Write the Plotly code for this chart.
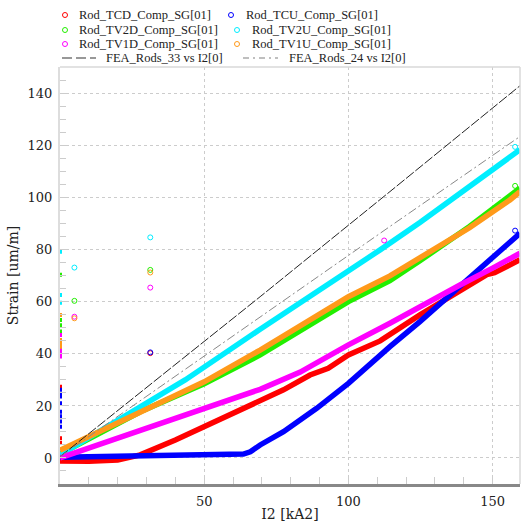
import plotly.graph_objects as go

# ---------------- data ----------------
tcd_x = [0, 10, 20, 27.8, 40, 50, 60.2, 69.4, 77.5, 86.7, 93, 100, 104, 111, 124.8, 138.7, 148, 150.7, 155, 159.5]
tcd_y = [-1.2, -1.3, -0.8, 1.2, 6.9, 12, 17.2, 21.7, 26.2, 31.9, 34.5, 39.6, 41.5, 45, 55, 64.6, 70.5, 71.2, 73.5, 76.2]

tcu_x = [0, 20, 40, 63.6, 66, 69.4, 77.5, 89, 100, 111, 114.4, 124.8, 138.7, 150, 159.5]
tcu_y = [0.3, 0.8, 1.2, 1.5, 2.4, 5, 10.1, 19.1, 28.7, 39.6, 42.8, 52.4, 65.9, 76.8, 86.4]

tv2d_x = [0, 20, 28.8, 50, 69.4, 100, 114.4, 124.8, 142, 159.5]
tv2d_y = [1.5, 13, 18.3, 28.5, 39.6, 60.1, 68.2, 75.8, 89, 103.7]

tv2u_x = [0, 20, 43.4, 69.4, 100, 111, 124.8, 149.7, 159.5]
tv2u_y = [1.2, 14.6, 30, 49.5, 71.7, 80, 90.5, 110.4, 118.5]

tv1d_x = [0, 20, 40, 50, 66, 69.4, 83.3, 100, 114.4, 124.8, 138.7, 150, 159.5]
tv1d_y = [0, 7.6, 15, 19.1, 25.3, 26.4, 33, 43.5, 51.8, 58.2, 66.5, 73, 78.7]

tv1u_x = [0, 20, 50, 69.4, 100, 114.4, 124.8, 142, 156, 159.5]
tv1u_y = [3, 13.7, 29.3, 41.5, 62, 70, 76.8, 88.5, 99.2, 102.4]

fea33_x = [0, 69.4, 114.4, 159.5]
fea33_y = [0.5, 62, 102.4, 143.1]
fea24_x = [0, 67.7, 114.4, 159.5]
fea24_y = [0.5, 53, 89, 123.6]

# isolated open-circle samples
out_tcd_x = [31.3];            out_tcd_y = [40.3]
out_tcu_x = [31.3, 157.8];     out_tcu_y = [40.6, 87.4]
out_tv2d_x = [5, 31.3, 157.8]; out_tv2d_y = [60.4, 72.3, 104.6]
out_tv2u_x = [5, 31.3, 157.8]; out_tv2u_y = [73.2, 84.8, 119.6]
out_tv1d_x = [5, 31.3, 112.4]; out_tv1d_y = [54.3, 65.5, 83.6]
out_tv1u_x = [5, 31.3];        out_tv1u_y = [53.7, 71.3]

# samples sitting on the left axis (x = 0)
edge_tcd_y = [27.4, 7.6, 5.8]
edge_tcu_y = [26.2, 24.5, 23.6, 21, 17.8, 16, 14, 12]
edge_tv2d_y = [70.4, 53, 51, 48.6]
edge_tv2u_y = [79.3, 62.7, 59.7]
edge_tv1d_y = [47.3, 41.5, 40, 39]
edge_tv1u_y = [55, 45.4, 44, 42.8]

names = ["Rod_TCD_Comp_SG[01]", "Rod_TCU_Comp_SG[01]", "Rod_TV2D_Comp_SG[01]",
         "Rod_TV2U_Comp_SG[01]", "Rod_TV1D_Comp_SG[01]", "Rod_TV1U_Comp_SG[01]"]
colors = ["#ff0000", "#0000ff", "#22ee00", "#00eeff", "#ff00ff", "#ff9a1a"]
fea_names = ["FEA_Rods_33 vs I2[0]", "FEA_Rods_24 vs I2[0]"]
fea_colors = ["#222222", "#888888"]

x_ticks = [50, 100, 150]
y_ticks = [0, 20, 40, 60, 80, 100, 120, 140]

series = [
    (tcd_x, tcd_y, out_tcd_x, out_tcd_y, edge_tcd_y),
    (tcu_x, tcu_y, out_tcu_x, out_tcu_y, edge_tcu_y),
    (tv2d_x, tv2d_y, out_tv2d_x, out_tv2d_y, edge_tv2d_y),
    (tv2u_x, tv2u_y, out_tv2u_x, out_tv2u_y, edge_tv2u_y),
    (tv1d_x, tv1d_y, out_tv1d_x, out_tv1d_y, edge_tv1d_y),
    (tv1u_x, tv1u_y, out_tv1u_x, out_tv1u_y, edge_tv1u_y),
]

FONT = "DejaVu Serif"
LFONT = "Liberation Serif"
W, H = 521, 526
ML, MR, MT, MB = 60, 1, 67, 42
PW, PH = W - ML - MR, H - MT - MB

fig = go.Figure()
for (sx, sy, ox, oy, ey), name, col in zip(series, names, colors):
    fig.add_trace(go.Scatter(x=sx, y=sy, mode="lines", name=name, showlegend=False,
                             line=dict(color=col, width=5.5)))
    fig.add_trace(go.Scatter(x=ox, y=oy, mode="markers", showlegend=False,
                             marker=dict(symbol="circle-open", size=5, color=col, line=dict(width=1))))
    fig.add_trace(go.Scatter(x=[0] * len(ey), y=ey, mode="markers", showlegend=False,
                             marker=dict(symbol="square", size=4, color=col)))

fig.add_trace(go.Scatter(x=fea33_x, y=fea33_y, mode="lines", name=fea_names[0], showlegend=False,
                         line=dict(color=fea_colors[0], width=1, dash="10px,2px")))
fig.add_trace(go.Scatter(x=fea24_x, y=fea24_y, mode="lines", name=fea_names[1], showlegend=False,
                         line=dict(color=fea_colors[1], width=1, dash="9px,3px,2px,3px")))

# ---------------- hand-built legend (pixel layout of the reference) ----------------
def px(xp):
    return (xp - ML) / PW

def py(yp):
    return (MT + PH - yp) / PH

annotations = []
shapes = []
leg_rows = [15, 30, 44]
leg_cols = [(65, 78), (231, 245)]
for i, (name, col) in enumerate(zip(names, colors)):
    r, c = divmod(i, 2)
    mx, tx = leg_cols[c]
    if c == 1 and r > 0:
        mx, tx = 237, 251
    yy = leg_rows[r]
    shapes.append(dict(type="circle", xref="paper", yref="paper", xsizemode="pixel", ysizemode="pixel",
                       xanchor=px(mx), yanchor=py(yy), x0=-2.5, x1=2.5, y0=-2.5, y1=2.5,
                       line=dict(color=col, width=1)))
    annotations.append(dict(xref="paper", yref="paper", x=px(tx), y=py(yy), text=name, showarrow=False,
                            xanchor="left", yanchor="middle", borderpad=0,
                            font=dict(family=LFONT, size=12.5, color="#222")))
fea_pos = [(62, 96, 105), (243, 278, 288)]
fea_dash = ["10px,4px", "6px,4px,2px,4px"]
for (x0, x1, tx), name, col, dsh in zip(fea_pos, fea_names, fea_colors, fea_dash):
    shapes.append(dict(type="line", xref="paper", yref="paper", x0=px(x0), x1=px(x1), y0=py(58), y1=py(58),
                       line=dict(color="#aaa" if col == "#888888" else "#777", width=1.5, dash=dsh)))
    annotations.append(dict(xref="paper", yref="paper", x=px(tx), y=py(58), text=name, showarrow=False,
                            xanchor="left", yanchor="middle", borderpad=0,
                            font=dict(family=LFONT, size=12.5, color="#222")))

# frame (top and right)
shapes.append(dict(type="line", xref="paper", yref="paper", x0=0, x1=1, y0=1, y1=1,
                   line=dict(color="#d8d8d8", width=1.5)))
shapes.append(dict(type="line", xref="paper", yref="paper", x0=1, x1=1, y0=0, y1=1,
                   line=dict(color="#d8d8d8", width=1.5)))

fig.update_layout(
    width=W, height=H,
    margin=dict(l=ML, r=MR, t=MT, b=MB, pad=0, autoexpand=False),
    paper_bgcolor="white", plot_bgcolor="white",
    showlegend=False,
    font=dict(family=FONT, size=13, color="#222"),
    annotations=annotations, shapes=shapes,
    xaxis=dict(range=[0, 159.5], tickvals=x_ticks, ticks="inside", ticklen=7, tickcolor="#cccccc",
               showgrid=True, gridcolor="#cccccc", griddash="3px,3px", gridwidth=1,
               zeroline=False, showline=True, linecolor="#888888", linewidth=3,
               minor=dict(dtick=10, tick0=0, ticks="inside", ticklen=7, tickcolor="#cccccc", showgrid=False),
               title=dict(text="I2 [kA2]", font=dict(family=FONT, size=14), standoff=2),
               tickfont=dict(family=FONT, size=13), ticklabelstandoff=3),
    yaxis=dict(range=[-10, 150.3], tickvals=y_ticks, ticks="inside", ticklen=6, tickcolor="#cccccc",
               showgrid=True, gridcolor="#cccccc", griddash="3px,3px", gridwidth=1,
               zeroline=False, showline=True, linecolor="#dddddd", linewidth=2,
               minor=dict(dtick=5, tick0=0, ticks="inside", ticklen=6, tickcolor="#cccccc", showgrid=False),
               title=dict(text="Strain [um/m]", font=dict(family=FONT, size=14), standoff=6),
               tickfont=dict(family=FONT, size=13), ticklabelstandoff=3),
)

fig.write_html("out.html", config={"displayModeBar": False},
               post_script="document.body.style.margin='0';document.body.style.overflow='hidden';")
